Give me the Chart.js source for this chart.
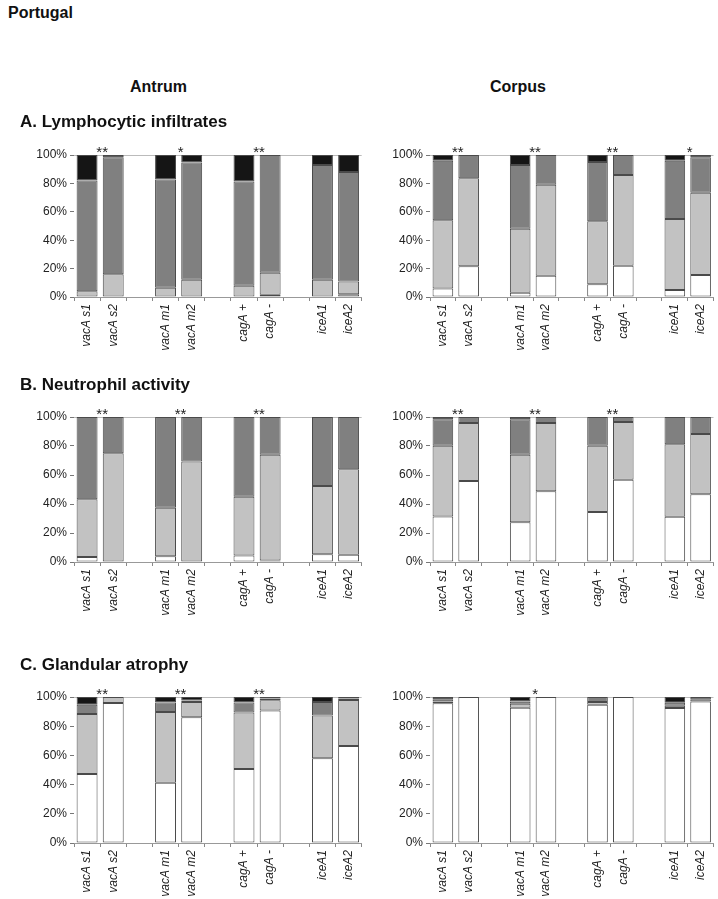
<!DOCTYPE html>
<html>
<head>
<meta charset="utf-8">
<script src="https://cdn.jsdelivr.net/npm/chart.js@4/dist/chart.umd.min.js"></script>
<style>
  body { margin: 0; background: #fff; width: 718px; height: 899px; overflow: hidden; position: relative; font-family: Arial, "Liberation Sans", sans-serif; color: #111; }
  .t { position: absolute; font-weight: bold; white-space: nowrap; z-index: 2; }
  canvas { position: absolute; }
</style>
</head>
<body>
<div class="t" style="left:8px; top:4px; font-size:16px;">Portugal</div>
<div class="t" style="left:130px; top:78px; font-size:16px;">Antrum</div>
<div class="t" style="left:490px; top:78px; font-size:16px;">Corpus</div>
<div class="t" style="left:20px; top:112px; font-size:17px;">A. Lymphocytic infiltrates</div>
<div class="t" style="left:20px; top:375px; font-size:17px;">B. Neutrophil activity</div>
<div class="t" style="left:20px; top:655px; font-size:17px;">C. Glandular atrophy</div>

<canvas id="aLeft" width="338" height="242" style="left:28px; top:130px;"></canvas>
<canvas id="aRight" width="334" height="242" style="left:384px; top:130px;"></canvas>
<canvas id="bLeft" width="338" height="245" style="left:28px; top:392px;"></canvas>
<canvas id="bRight" width="334" height="245" style="left:384px; top:392px;"></canvas>
<canvas id="cLeft" width="338" height="227" style="left:28px; top:672px;"></canvas>
<canvas id="cRight" width="334" height="227" style="left:384px; top:672px;"></canvas>

<script>
// categories (empty slots are the gaps between gene groups)
const labels = ['vacA s1', 'vacA s2', '', 'vacA m1', 'vacA m2', '', 'cagA +', 'cagA -', '', 'iceA1', 'iceA2'];

// grade 0 (white), 1 (light grey), 2 (dark grey), 3 (black), in %
// A. Lymphocytic infiltrates - antrum
const lymphAntrum0 = [null, null, null, null, null, null, null, 1.5, null, null, 2];
const lymphAntrum1 = [4, 16, null, 6.6, 12.2, null, 8, 15.5, null, 12.2, 9];
const lymphAntrum2 = [78, 82.4, null, 76.2, 82.6, null, 73.4, 83, null, 80.8, 77];
const lymphAntrum3 = [18, 1.6, null, 17.2, 5.2, null, 18.6, null, null, 7, 12];
const lymphAntrumStars = ['**', '*', '**', ''];

// A. Lymphocytic infiltrates - corpus
const lymphCorpus0 = [6, 21.6, null, 3, 15, null, 9, 22, null, 5, 15.5];
const lymphCorpus1 = [48, 62, null, 45, 64, null, 44.4, 64, null, 50, 58];
const lymphCorpus2 = [42, 16.4, null, 45, 21, null, 41.6, 14, null, 41, 25];
const lymphCorpus3 = [4, null, null, 7, null, null, 5, null, null, 4, 1.5];
const lymphCorpusStars = ['**', '**', '**', '*'];

// B. Neutrophil activity - antrum
const neutAntrum0 = [3.5, null, null, 4, null, null, 4.4, 1, null, 5.3, 5];
const neutAntrum1 = [39.7, 75, null, 33.4, 69.3, null, 40.6, 73, null, 47.1, 59];
const neutAntrum2 = [56.8, 25, null, 62.6, 30.7, null, 55, 26, null, 47.6, 36];
const neutAntrum3 = [null, null, null, null, null, null, null, null, null, null, null];
const neutAntrumStars = ['**', '**', '**', ''];

// B. Neutrophil activity - corpus
const neutCorpus0 = [31.4, 55.8, null, 27.4, 48.8, null, 34.4, 56.7, null, 31.2, 46.7];
const neutCorpus1 = [48.8, 40, null, 46.6, 47, null, 45.8, 39.8, null, 50, 41.6];
const neutCorpus2 = [18.2, 4.2, null, 24.4, 4.2, null, 19.8, 3.5, null, 18.8, 11.7];
const neutCorpus3 = [1.6, null, null, 1.6, null, null, null, null, null, null, null];
const neutCorpusStars = ['**', '**', '**', ''];

// C. Glandular atrophy - antrum
const atroAntrum0 = [47.2, 95.9, null, 41.3, 86.2, null, 50.7, 90.8, null, 58, 66.4];
const atroAntrum1 = [41.1, 4.1, null, 48.4, 10.4, null, 38.7, 6.9, null, 29.4, 31.6];
const atroAntrum2 = [6.4, null, null, 6.6, 1, null, 6.9, 1.3, null, 9.2, 1];
const atroAntrum3 = [5.3, null, null, 3.7, 2.4, null, 3.7, 1, null, 3.4, 1];
const atroAntrumStars = ['**', '**', '**', ''];

// C. Glandular atrophy - corpus
const atroCorpus0 = [95.8, 100, null, 92.6, 100, null, 94.7, 100, null, 92.5, 97];
const atroCorpus1 = [1.2, null, null, 2.8, null, null, 1.8, null, null, 1.5, 1.5];
const atroCorpus2 = [1.5, null, null, 1.6, null, null, 3.5, null, null, 2, 1.5];
const atroCorpus3 = [1.5, null, null, 3, null, null, null, null, null, 4, null];
const atroCorpusStars = ['', '*', '', ''];

const yTicks = [0, 20, 40, 60, 80, 100];
const gradeColors = ['#ffffff', '#c2c2c2', '#808080', '#151515'];
const fontFamily = 'Arial, "Liberation Sans", sans-serif';

// significance stars over each pair of bars
const starPlugin = {
    id: 'stars',
    afterDatasetsDraw(chart, args, opts) {
        const xs = chart.scales.x;
        const ctx = chart.ctx;
        ctx.save();
        ctx.font = '15px ' + fontFamily;
        ctx.fillStyle = '#222';
        ctx.textAlign = 'center';
        ctx.textBaseline = 'alphabetic';
        opts.marks.forEach((m, k) => {
            if (!m) return;
            const i = k * 3;
            const px = (xs.getPixelForValue(i) + xs.getPixelForValue(i + 1)) / 2 + 2;
            ctx.fillText(m, px, chart.chartArea.top + 2);
        });
        ctx.restore();
    }
};

function makePanel(id, grades, stars, xHeight) {
    new Chart(document.getElementById(id).getContext('2d'), {
        type: 'bar',
        data: {
            labels: labels,
            datasets: grades.map((g, k) => ({
                data: g,
                backgroundColor: gradeColors[k],
                borderColor: '#4a4a4a',
                borderWidth: 1,
                borderSkipped: false,
                categoryPercentage: 1,
                barPercentage: 0.8
            }))
        },
        options: {
            responsive: false,
            animation: false,
            layout: { padding: { top: 25, right: 0, left: 0, bottom: 0 } },
            plugins: {
                legend: { display: false },
                tooltip: { enabled: false },
                stars: { marks: stars }
            },
            scales: {
                x: {
                    stacked: true,
                    afterFit: s => { s.height = xHeight; },
                    grid: { drawOnChartArea: false, tickLength: 4, color: '#888' },
                    border: { color: '#999' },
                    ticks: {
                        autoSkip: false,
                        minRotation: 90,
                        maxRotation: 90,
                        padding: 3,
                        color: '#222',
                        font: { family: fontFamily, size: 12, style: 'italic' }
                    }
                },
                y: {
                    stacked: true,
                    min: 0,
                    max: 100,
                    afterFit: s => { s.width = 46; },
                    afterBuildTicks: s => { s.ticks = yTicks.map(v => ({ value: v })); },
                    border: { display: false },
                    grid: {
                        color: c => (c.tick && c.tick.value === 100 ? '#bbb' : 'rgba(0,0,0,0)'),
                        tickColor: '#777',
                        tickLength: 4
                    },
                    ticks: {
                        padding: 3,
                        color: '#222',
                        font: { family: fontFamily, size: 12 },
                        callback: v => v + '%'
                    }
                }
            }
        },
        plugins: [starPlugin]
    });
}

makePanel('aLeft', [lymphAntrum0, lymphAntrum1, lymphAntrum2, lymphAntrum3], lymphAntrumStars, 75);
makePanel('aRight', [lymphCorpus0, lymphCorpus1, lymphCorpus2, lymphCorpus3], lymphCorpusStars, 75);
makePanel('bLeft', [neutAntrum0, neutAntrum1, neutAntrum2, neutAntrum3], neutAntrumStars, 75);
makePanel('bRight', [neutCorpus0, neutCorpus1, neutCorpus2, neutCorpus3], neutCorpusStars, 75);
makePanel('cLeft', [atroAntrum0, atroAntrum1, atroAntrum2, atroAntrum3], atroAntrumStars, 56);
makePanel('cRight', [atroCorpus0, atroCorpus1, atroCorpus2, atroCorpus3], atroCorpusStars, 56);
</script>
</body>
</html>
